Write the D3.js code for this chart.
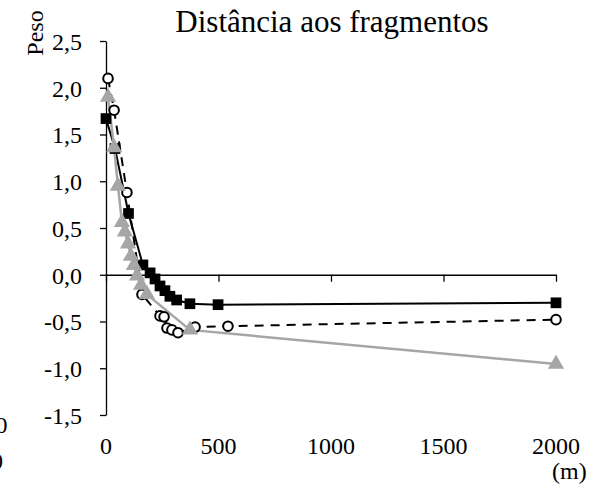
<!DOCTYPE html>
<html><head><meta charset="utf-8">
<script src="https://cdn.jsdelivr.net/npm/d3@7"></script>
<style>body{margin:0;background:#fff}svg{display:block}text{font-family:"Liberation Serif","Times New Roman",serif;fill:#000}</style>
</head><body>
<script>
const title = "Distância aos fragmentos";
const yLabel = "Peso";
const xUnit = "(m)";
const xTicks = [0, 500, 1000, 1500, 2000];
const yTicks = [-1.5, -1.0, -0.5, 0.0, 0.5, 1.0, 1.5, 2.0, 2.5];

const squaresX = [0, 40, 100, 164, 196, 218, 240, 262, 284, 314, 373, 498, 2000];
const squaresY = [1.67, 1.35, 0.655, 0.105, 0.02, -0.045, -0.12, -0.17, -0.23, -0.27, -0.31, -0.32, -0.30];

const circlesX = [9, 36, 93, 160, 240, 258, 271, 293, 320, 396, 542, 2000];
const circlesY = [2.10, 1.76, 0.88, -0.21, -0.44, -0.45, -0.57, -0.59, -0.62, -0.56, -0.55, -0.48];

const trianglesX = [9, 36, 53, 71, 84, 98, 111, 124, 138, 156, 182, 373, 2000];
const trianglesY = [1.90, 1.36, 0.95, 0.56, 0.46, 0.33, 0.20, 0.10, -0.01, -0.11, -0.21, -0.59, -0.955];

const W = 605, H = 487;
const serif = "'Liberation Serif','Times New Roman',serif";
const svg = d3.select("body").append("svg").attr("width", W).attr("height", H);

const x = d3.scaleLinear().domain([0, 2000]).range([106, 556]);
const y = d3.scaleLinear().domain([-1.5, 2.5]).range([415, 41]);
const fmt = d => d3.format(".1f")(d).replace(".", ",").replace("−", "-");

// y axis
const yAxis = svg.append("g").attr("transform", `translate(${x(0)},0)`)
  .call(d3.axisLeft(y).tickValues(yTicks).tickSize(6).tickSizeOuter(0).tickFormat(fmt))
  .attr("font-family", serif).attr("font-size", 24);
yAxis.select(".domain").attr("stroke", "#000").attr("stroke-width", 1.3);
yAxis.selectAll(".tick line").attr("stroke", "#000").attr("stroke-width", 1.3);
yAxis.selectAll(".tick text").attr("x", -24).attr("dy", "0.35em")
  .style("font-size", "24px").style("font-family", serif);

// x axis on zero line
const xAxis = svg.append("g").attr("transform", `translate(0,${y(0)})`)
  .call(d3.axisBottom(x).tickValues(xTicks).tickSize(7).tickSizeOuter(0).tickFormat(d3.format("d")));
xAxis.select(".domain").attr("stroke", "#000").attr("stroke-width", 1.3);
xAxis.selectAll(".tick line").attr("stroke", "#000").attr("stroke-width", 1.3);
xAxis.selectAll(".tick text").remove();
svg.append("g").selectAll("text").data(xTicks).join("text")
  .attr("x", d => x(d)).attr("y", 454).attr("text-anchor", "middle")
  .style("font-size", "24px").style("font-family", serif).text(d => d);

// series
const mk = (xs, ys) => xs.map((v, i) => [v, ys[i]]);
const sq = mk(squaresX, squaresY), ci = mk(circlesX, circlesY), tr = mk(trianglesX, trianglesY);
const line = d3.line().x(d => x(d[0])).y(d => y(d[1]));

svg.append("path").datum(sq).attr("d", line).attr("fill", "none").attr("stroke", "#000").attr("stroke-width", 2);
svg.append("path").datum(ci).attr("d", line).attr("fill", "none").attr("stroke", "#000").attr("stroke-width", 2).attr("stroke-dasharray", "9,7");
svg.append("path").datum(tr).attr("d", line).attr("fill", "none").attr("stroke", "#a6a6a6").attr("stroke-width", 2.5);

svg.append("g").selectAll("path").data(sq).join("path")
  .attr("d", d3.symbol(d3.symbolSquare, 115))
  .attr("transform", d => `translate(${x(d[0])},${y(d[1])})`).attr("fill", "#000");
svg.append("g").selectAll("circle").data(ci).join("circle")
  .attr("cx", d => x(d[0])).attr("cy", d => y(d[1])).attr("r", 4.8)
  .attr("fill", "#fff").attr("stroke", "#000").attr("stroke-width", 2);
svg.append("g").selectAll("path").data(tr).join("path")
  .attr("d", d3.symbol(d3.symbolTriangle, 115))
  .attr("transform", d => `translate(${x(d[0])},${y(d[1])})`).attr("fill", "#a6a6a6");

// texts
svg.append("text").attr("x", 332).attr("y", 32).attr("text-anchor", "middle")
  .style("font-size", "31px").style("font-family", serif).text(title);
svg.append("text").attr("transform", "translate(43,33) rotate(-90)").attr("text-anchor", "middle")
  .style("font-size", "24px").style("font-family", serif).text(yLabel);
svg.append("text").attr("x", 552).attr("y", 479).style("font-size", "24px").style("font-family", serif).text(xUnit);
// clipped labels at the left edge (partially visible in the reference)
svg.append("text").attr("x", 7.5).attr("y", 433).attr("text-anchor", "end").style("font-size", "24px").style("font-family", serif).text("0");
svg.append("text").attr("x", 3).attr("y", 469).attr("text-anchor", "end").style("font-size", "24px").style("font-family", serif).text("0");
</script>
</body></html>
